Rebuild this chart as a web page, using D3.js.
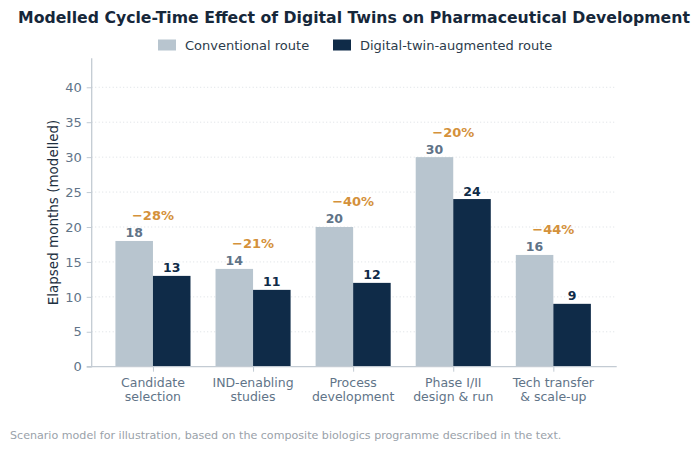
<!DOCTYPE html>
<html><head><meta charset="utf-8">
<script src="https://cdn.jsdelivr.net/npm/d3@7"></script>
<style>body{margin:0;background:#fff;} svg{display:block;font-family:"DejaVu Sans",sans-serif;}</style>
</head><body>
<svg id="chart" width="700" height="451"></svg>
<script>
const categories = [["Candidate","selection"],["IND-enabling","studies"],["Process","development"],["Phase I/II","design & run"],["Tech transfer","& scale-up"]];
const conventional = [18, 14, 20, 30, 16];
const digitalTwin = [13, 11, 12, 24, 9];
const pctLabels = ["\u221228%","\u221221%","\u221240%","\u221220%","\u221244%"];
const yTicks = [0,5,10,15,20,25,30,35,40];
const seriesNames = ["Conventional route","Digital-twin-augmented route"];

const svg = d3.select("#chart");
const colConv = "#b8c5cf", colDT = "#0f2b48";
const L = 91.7, R = 616.7, T = 58.3, B = 366.7;
const x = d3.scaleLinear().domain([-0.612, 4.633]).range([L, R]);
const y = d3.scaleLinear().domain([0, 44.15]).range([B, T]);
const bw = 0.375;

// grid
svg.append("g").selectAll("line").data(yTicks.filter(d=>d>0)).join("line")
  .attr("x1", L).attr("x2", R).attr("y1", d=>y(d)).attr("y2", d=>y(d))
  .attr("stroke", "#d3d8dd").attr("stroke-width", 0.8).attr("stroke-dasharray", "1,2.5");

// bars
const idx = d3.range(categories.length);
svg.append("g").selectAll("rect").data(idx).join("rect")
  .attr("x", i=>x(i-bw)).attr("width", i=>x(i)-x(i-bw)).attr("y", i=>y(conventional[i])).attr("height", i=>B-y(conventional[i]))
  .attr("fill", colConv);
svg.append("g").selectAll("rect").data(idx).join("rect")
  .attr("x", i=>x(i)).attr("width", i=>x(i+bw)-x(i)).attr("y", i=>y(digitalTwin[i])).attr("height", i=>B-y(digitalTwin[i]))
  .attr("fill", colDT);

// value labels
svg.append("g").selectAll("text").data(idx).join("text")
  .attr("x", i=>x(i-bw/2)).attr("y", i=>y(conventional[i])-3.5).attr("text-anchor","middle")
  .attr("font-size", 12.5).attr("font-weight","bold").attr("fill","#5f7387").text(i=>conventional[i]);
svg.append("g").selectAll("text").data(idx).join("text")
  .attr("x", i=>x(i+bw/2)).attr("y", i=>y(digitalTwin[i])-3.5).attr("text-anchor","middle")
  .attr("font-size", 12.5).attr("font-weight","bold").attr("fill","#0f2b48").text(i=>digitalTwin[i]);
// pct labels
svg.append("g").selectAll("text").data(idx).join("text")
  .attr("x", i=>x(i)).attr("y", i=>y(Math.max(conventional[i],digitalTwin[i])+3.6)).attr("dy","0.35em").attr("text-anchor","middle")
  .attr("font-size", 13).attr("font-weight","bold").attr("fill","#d4913b").text(i=>pctLabels[i]);

// axes
const axCol = "#c3cbd3", txtCol = "#617488";
const yAxis = svg.append("g").attr("transform", `translate(${L},0)`).call(d3.axisLeft(y).tickValues(yTicks).tickSize(5).tickPadding(5));
const xAxis = svg.append("g").attr("transform", `translate(0,${B})`).call(d3.axisBottom(x).tickValues(idx).tickSize(5).tickFormat(""));
[yAxis, xAxis].forEach(g=>{
  g.select(".domain").attr("stroke", axCol).attr("stroke-width", 1.3);
  g.selectAll(".tick line").attr("stroke", axCol).attr("stroke-width", 1);
  g.selectAll("text").attr("fill", txtCol).attr("font-size", 13).attr("font-family","DejaVu Sans");
});
yAxis.select(".domain").attr("d", `M-5,${B}H0V${T}`);
xAxis.select(".domain").attr("d", `M${L},0H${R}`);

// category labels
const cl = svg.append("g").selectAll("text").data(idx).join("text")
  .attr("text-anchor","middle").attr("font-size", 12.5).attr("fill", txtCol);
cl.each(function(i){
  const t = d3.select(this);
  categories[i].forEach((s,k)=>t.append("tspan").attr("x", x(i)).attr("y", 387 + k*14.2).text(s));
});

// y label
svg.append("text").attr("transform", `translate(58,${(T+B)/2}) rotate(-90)`).attr("text-anchor","middle")
  .attr("font-size", 13.5).attr("fill", "#1d2f40").text("Elapsed months (modelled)");

// title
svg.append("text").attr("x", 354).attr("y", 22.5).attr("text-anchor","middle").attr("font-size", 15.7).attr("font-weight","bold")
  .attr("fill", "#16273a").text("Modelled Cycle-Time Effect of Digital Twins on Pharmaceutical Development");

// legend
const leg = [{x:158, c:colConv, t:seriesNames[0]},{x:333, c:colDT, t:seriesNames[1]}];
const lg = svg.append("g").selectAll("g").data(leg).join("g");
lg.append("rect").attr("x", d=>d.x).attr("y", 39.5).attr("width", 18).attr("height", 11).attr("fill", d=>d.c);
lg.append("text").attr("x", d=>d.x+27).attr("y", 49.5).attr("font-size", 13).attr("fill", "#2b3b4b").text(d=>d.t);

// footnote
svg.append("text").attr("x", 10).attr("y", 439).attr("font-size", 11.1).attr("fill", "#9aa2aa")
  .text("Scenario model for illustration, based on the composite biologics programme described in the text.");
</script>
</body></html>
